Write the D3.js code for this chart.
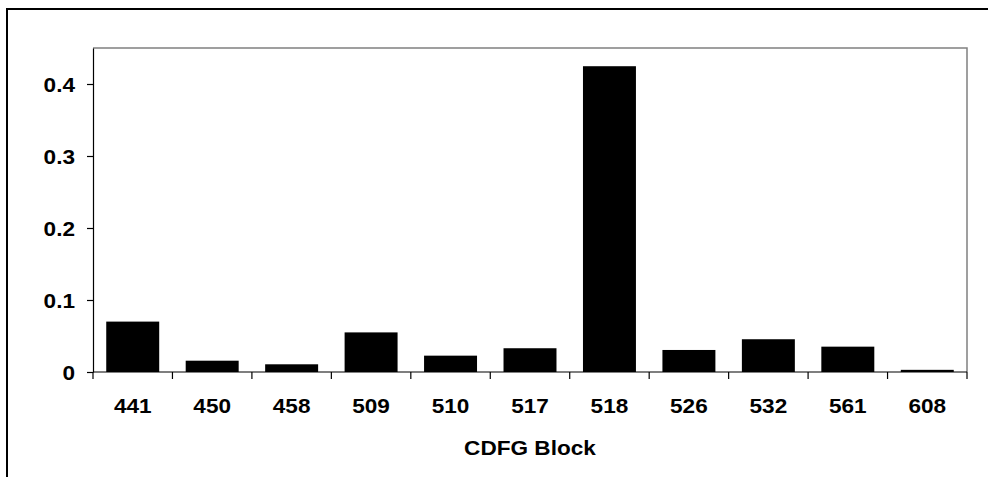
<!DOCTYPE html>
<html><head><meta charset="utf-8">
<script src="https://cdn.jsdelivr.net/npm/d3@7"></script>
<style>
html,body{margin:0;padding:0;background:#fff;}
svg{display:block;}
text{font-family:"Liberation Sans",Arial,sans-serif;font-weight:bold;fill:#000;}
</style></head>
<body>
<svg id="chart" width="988" height="477"></svg>
<script>
const categories = ["441","450","458","509","510","517","518","526","532","561","608"];
const values = [0.070, 0.0157, 0.0107, 0.055, 0.0227, 0.033, 0.4247, 0.0306, 0.0455, 0.0352, 0.003];
const yTicks = [0, 0.1, 0.2, 0.3, 0.4];
const xTitle = "CDFG Block";

const svg = d3.select("#chart");
const m = {left: 93, right: 967, top: 48, bottom: 372};
const sx = 1.13;

// outer border (extends beyond view)
svg.append("rect").attr("x", 7).attr("y", 9).attr("width", 1000).attr("height", 500)
  .attr("fill", "#fff").attr("stroke", "#000").attr("stroke-width", 2);

const x = d3.scaleBand().domain(categories).range([m.left, m.right]).padding(0);
const y = d3.scaleLinear().domain([0, 0.45]).range([m.bottom, m.top]);

// plot area border (top & right gray)
svg.append("path")
  .attr("d", `M${m.left},${m.top}H${m.right}V${m.bottom}`)
  .attr("fill", "none").attr("stroke", "#808080").attr("stroke-width", 1.5);

// bars
const step = x.step();
svg.append("g").selectAll("rect").data(values).join("rect")
  .attr("x", (d, i) => x(categories[i]) + step / 6)
  .attr("width", step * 2 / 3)
  .attr("y", d => y(d))
  .attr("height", d => y(0) - y(d))
  .attr("fill", "#000");

// y axis
const yAxis = svg.append("g").attr("transform", `translate(${m.left},0)`)
  .call(d3.axisLeft(y).tickValues(yTicks).tickFormat(d => d === 0 ? "0" : d3.format(".1f")(d)).tickSize(6).tickSizeOuter(0));
yAxis.select(".domain").attr("stroke", "#000").attr("stroke-width", 1.2);
yAxis.selectAll(".tick line").attr("stroke", "#000").attr("stroke-width", 1.2);
yAxis.selectAll(".tick text").attr("font-size", 20).attr("font-family", null)
  .attr("x", null).attr("dy", "0.35em")
  .attr("transform", `translate(-18,0) scale(${sx},1)`);

// x axis: ticks at category boundaries
const bounds = categories.map(c => x(c)).concat([m.right]);
svg.append("line").attr("x1", m.left).attr("x2", m.right).attr("y1", y(0)).attr("y2", y(0))
  .attr("stroke", "#000").attr("stroke-width", 1.2);
svg.append("g").selectAll("line").data(bounds).join("line")
  .attr("x1", d => d).attr("x2", d => d).attr("y1", y(0)).attr("y2", y(0) + 7)
  .attr("stroke", "#000").attr("stroke-width", 1.2);
svg.append("g").selectAll("text").data(categories).join("text")
  .attr("text-anchor", "middle").attr("font-size", 20)
  .attr("transform", d => `translate(${x(d) + step / 2},${412.5}) scale(${sx},1)`)
  .text(d => d);

// x title
svg.append("text").attr("text-anchor", "middle").attr("font-size", 20)
  .attr("transform", `translate(${(m.left + m.right) / 2},454.5) scale(${sx},1)`)
  .text(xTitle);
</script>
</body></html>
